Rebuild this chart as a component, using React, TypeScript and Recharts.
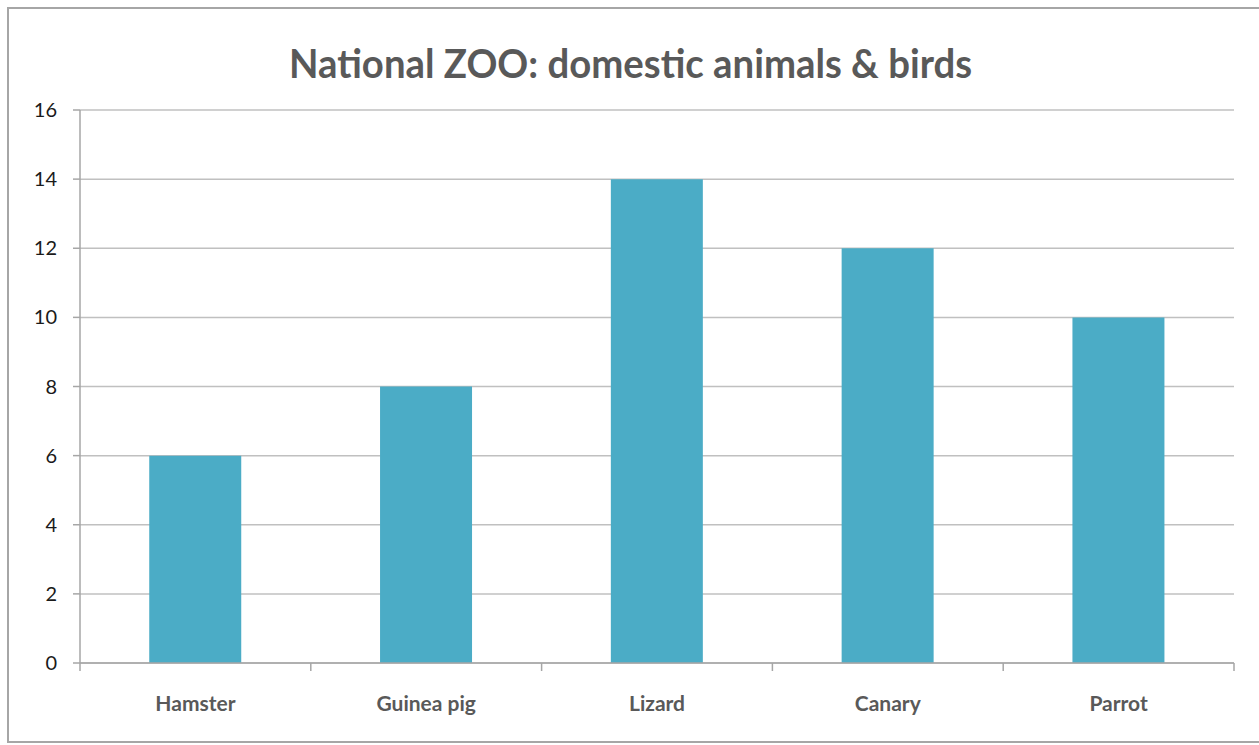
import React from 'react';
import { BarChart, Bar, XAxis, YAxis, CartesianGrid } from 'recharts';

const categories = ['Hamster', 'Guinea pig', 'Lizard', 'Canary', 'Parrot'];
const counts = [6, 8, 14, 12, 10];
const yTicks = [0, 2, 4, 6, 8, 10, 12, 14, 16];
const title = 'National ZOO: domestic animals & birds';

const data = categories.map((name, i) => ({ name, value: counts[i] }));

const CategoryTick = (props: any) => {
  const { x, y, payload, index, width } = props;
  const band = Number(width) / categories.length;
  const left = x - band / 2;
  const right = x + band / 2;
  const isLast = index === categories.length - 1;
  return (
    <g>
      <line x1={left} x2={left} y1={y} y2={y + 8} stroke="#a6a6a6" strokeWidth={1.5} />
      {isLast && <line x1={right} x2={right} y1={y} y2={y + 8} stroke="#a6a6a6" strokeWidth={1.5} />}
      <text
        x={x}
        y={y + 48}
        textAnchor="middle"
        fill="#595959"
        fontFamily="Lato, 'Open Sans', sans-serif"
        fontWeight={700}
        fontSize={21}
      >
        {payload.value}
      </text>
    </g>
  );
};

export default function App() {
  return (
    <div style={{ position: 'absolute', left: 0, top: 0, width: 1259, height: 745, background: '#fff' }}>
      <div
        style={{
          position: 'absolute',
          left: 7,
          top: 7,
          width: 1260,
          height: 736,
          border: '2px solid #a6a6a6',
          boxSizing: 'border-box',
        }}
      />
      <svg style={{ position: 'absolute', left: 0, top: 0 }} width={1259} height={110}>
        <text
          x={289}
          y={78}
          textLength={683}
          lengthAdjust="spacingAndGlyphs"
          fill="#595959"
          fontFamily="Lato, 'Open Sans', sans-serif"
          fontWeight={700}
          fontSize={41}
        >
          {title}
        </text>
      </svg>
      <div style={{ position: 'absolute', left: 0, top: 0 }}>
        <BarChart
          width={1259}
          height={745}
          data={data}
          margin={{ top: 110, right: 25, bottom: 32, left: 20 }}
          barCategoryGap="30%"
        >
          <CartesianGrid vertical={false} stroke="#c0c0c0" strokeWidth={1.5} />
          <XAxis
            dataKey="name"
            height={50}
            axisLine={{ stroke: '#a6a6a6', strokeWidth: 1.5 }}
            tickLine={false}
            tickSize={0}
            tickMargin={0}
            interval={0}
            tick={CategoryTick}
          />
          <YAxis
            width={60}
            domain={[0, 16]}
            ticks={yTicks}
            interval={0}
            tickSize={7}
            tickMargin={16}
            axisLine={{ stroke: '#a6a6a6', strokeWidth: 1.5 }}
            tickLine={{ stroke: '#a6a6a6', strokeWidth: 1.5 }}
            tick={{ fill: '#1a1a1a', fontFamily: "Lato, 'Open Sans', sans-serif", fontSize: 20 }}
          />
          <Bar dataKey="value" fill="#4bacc6" isAnimationActive={false} />
        </BarChart>
      </div>
    </div>
  );
}
